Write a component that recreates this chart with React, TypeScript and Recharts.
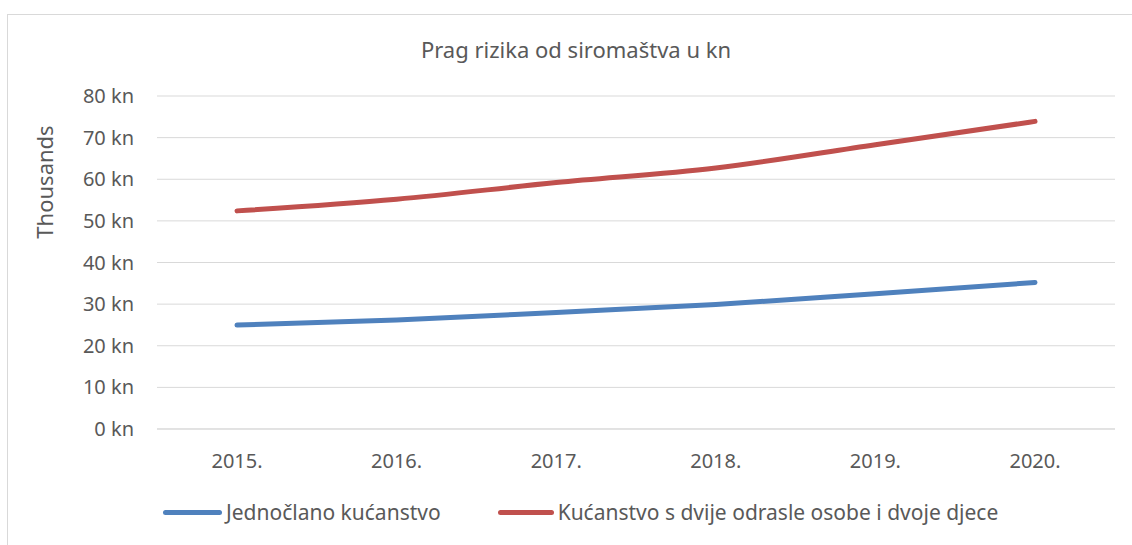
import React from 'react';
import { LineChart, Line, XAxis, YAxis, CartesianGrid } from 'recharts';

const years = ['2015.', '2016.', '2017.', '2018.', '2019.', '2020.'];
const single = [24960, 26200, 28000, 29900, 32500, 35200];
const family = [52400, 55200, 59200, 62700, 68300, 73900];
const yTicks = [0, 10000, 20000, 30000, 40000, 50000, 60000, 70000, 80000];

const BLUE = '#4F81BD';
const RED = '#C0504D';
const TEXT = '#595959';
const FONT = '"Noto Sans", sans-serif';

const data = years.map((y, i) => ({ year: y, single: single[i], family: family[i] }));

export default function App() {
    return (
        <div style={{ position: 'absolute', left: 0, top: 0, width: 1132, height: 545, background: '#fff', fontFamily: FONT }}>
            <div style={{ position: 'absolute', left: 7, top: 14, right: 0, bottom: 0, borderLeft: '1px solid #D9D9D9', borderTop: '1px solid #D9D9D9' }} />
            <div style={{ position: 'absolute', left: 0, width: 1152, top: 34, textAlign: 'center', fontSize: 22, color: TEXT }}>
                Prag rizika od siromaštva u kn
            </div>
            <div style={{ position: 'absolute', left: 0, top: 0 }}>
                <LineChart width={1132} height={545} data={data} margin={{ top: 96, right: 17, bottom: 86, left: 0 }}>
                    <CartesianGrid vertical={false} stroke="#D9D9D9" />
                    <XAxis
                        dataKey="year"
                        padding={{ left: 80, right: 80 }}
                        tickLine={false}
                        axisLine={{ stroke: '#D9D9D9' }}
                        tickSize={0}
                        tickMargin={25}
                        tick={{ fill: TEXT, fontSize: 20, fontFamily: FONT }}
                    />
                    <YAxis
                        width={157}
                        domain={[0, 80000]}
                        ticks={yTicks}
                        tickFormatter={(v: number) => `${v / 1000} kn`}
                        tickLine={false}
                        axisLine={false}
                        tickSize={0}
                        tickMargin={23}
                        tick={{ fill: TEXT, fontSize: 20, fontFamily: FONT }}
                        label={{
                            content: () => (
                                <text x={44} y={182} transform="rotate(-90 44 182)" textAnchor="middle" dominantBaseline="central" fill={TEXT} fontSize={22} fontFamily={FONT}>
                                    Thousands
                                </text>
                            ),
                        }}
                    />
                    <Line type="monotone" dataKey="single" stroke={BLUE} strokeWidth={5} strokeLinecap="round" dot={false} isAnimationActive={false} />
                    <Line type="monotone" dataKey="family" stroke={RED} strokeWidth={5} strokeLinecap="round" dot={false} isAnimationActive={false} />
                </LineChart>
            </div>
            <div style={{ position: 'absolute', top: 498, left: 163, display: 'flex', alignItems: 'center', fontSize: 21, color: TEXT, whiteSpace: 'nowrap' }}>
                <span style={{ display: 'inline-block', width: 59, height: 5, borderRadius: 3, background: BLUE, marginRight: 4 }} />
                <span>Jednočlano kućanstvo</span>
                <span style={{ display: 'inline-block', width: 56, height: 5, borderRadius: 3, background: RED, marginLeft: 57, marginRight: 4 }} />
                <span>Kućanstvo s dvije odrasle osobe i dvoje djece</span>
            </div>
        </div>
    );
}
